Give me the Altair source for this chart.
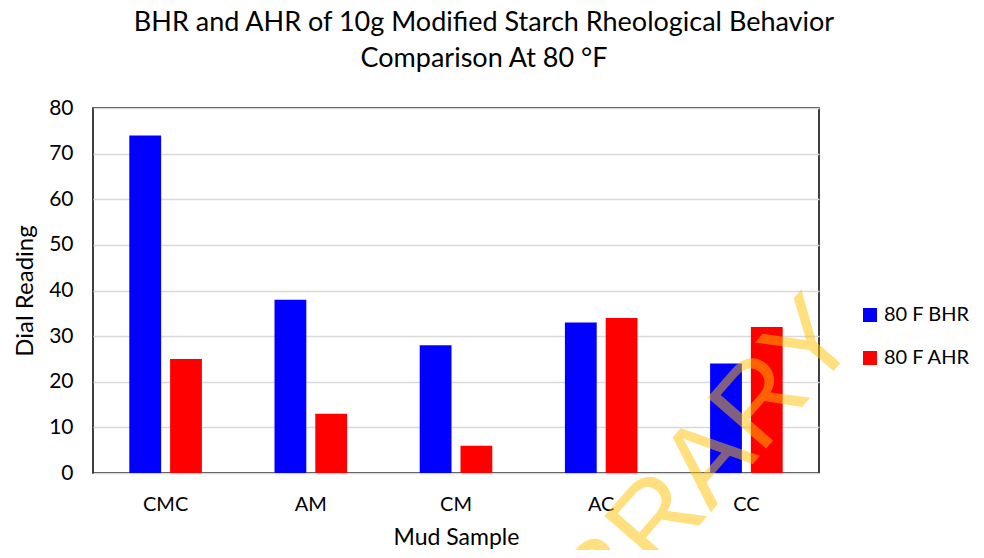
import altair as alt
import pandas as pd

samples = ["CMC", "AM", "CM", "AC", "CC"]
series = ["80 F BHR", "80 F AHR"]
bhr = [74, 38, 28, 33, 24]
ahr = [25, 13, 6, 34, 32]
y_ticks = [0, 10, 20, 30, 40, 50, 60, 70, 80]
title_lines = ["BHR and AHR of 10g Modified Starch Rheological Behavior",
               "Comparison At 80 °F"]
watermark = ["LIBRARY"]

rows = []
for i, s in enumerate(samples):
    rows.append({"sample": s, "series": series[0], "value": bhr[i]})
    rows.append({"sample": s, "series": series[1], "value": ahr[i]})
df = pd.DataFrame(rows)

FONT = "Lato"

bars = alt.Chart(df).mark_bar().encode(
    x=alt.X("sample:N", sort=samples,
            scale=alt.Scale(paddingInner=0.5, paddingOuter=0.25),
            axis=alt.Axis(title="Mud Sample", labelAngle=0, ticks=False, domain=False,
                          grid=False, labelPadding=21, titlePadding=12,
                          labelFontSize=20, titleFontSize=23)),
    xOffset=alt.XOffset("series:N", sort=series,
                        scale=alt.Scale(paddingInner=0.22, paddingOuter=0)),
    y=alt.Y("value:Q", scale=alt.Scale(domain=[0, 80]),
            axis=alt.Axis(title="Dial Reading", values=y_ticks, ticks=False, domain=False,
                          labelPadding=20, titlePadding=11,
                          labelFontSize=21, titleFontSize=24)),
    color=alt.Color("series:N", sort=series,
                    scale=alt.Scale(domain=series, range=["#0000FF", "#FF0000"]),
                    legend=alt.Legend(title=None, orient="none", legendX=767, legendY=197,
                                      symbolType="square", symbolSize=196,
                                      symbolStrokeWidth=0, labelFontSize=20,
                                      rowPadding=23, labelOffset=4)),
)

wm = alt.Chart(pd.DataFrame({"t": watermark})).mark_text(
    angle=311, fontSize=113, font="Liberation Sans", color="#FFC000", opacity=0.5,
    align="center", baseline="middle"
).encode(x=alt.value(585), y=alt.value(390), text="t:N")

chart = alt.layer(bars, wm).properties(
    width=726, height=365,
    autosize="none",
    padding={"left": 85, "top": 100, "right": 154, "bottom": 77},
    title=alt.TitleParams(title_lines, fontSize=27, font=FONT, fontWeight="normal",
                          anchor="middle", dx=28, offset=24, lineHeight=36, color="black"),
).configure_view(stroke="black", strokeWidth=1.5).configure_axis(
    gridColor="#d9d9d9", gridWidth=1.5, labelFont=FONT, titleFont=FONT,
    labelColor="black", titleColor="black", titleFontWeight="normal"
).configure_legend(labelFont=FONT, labelColor="black")

chart.save("out.html", embed_options={"renderer": "svg", "actions": False})
